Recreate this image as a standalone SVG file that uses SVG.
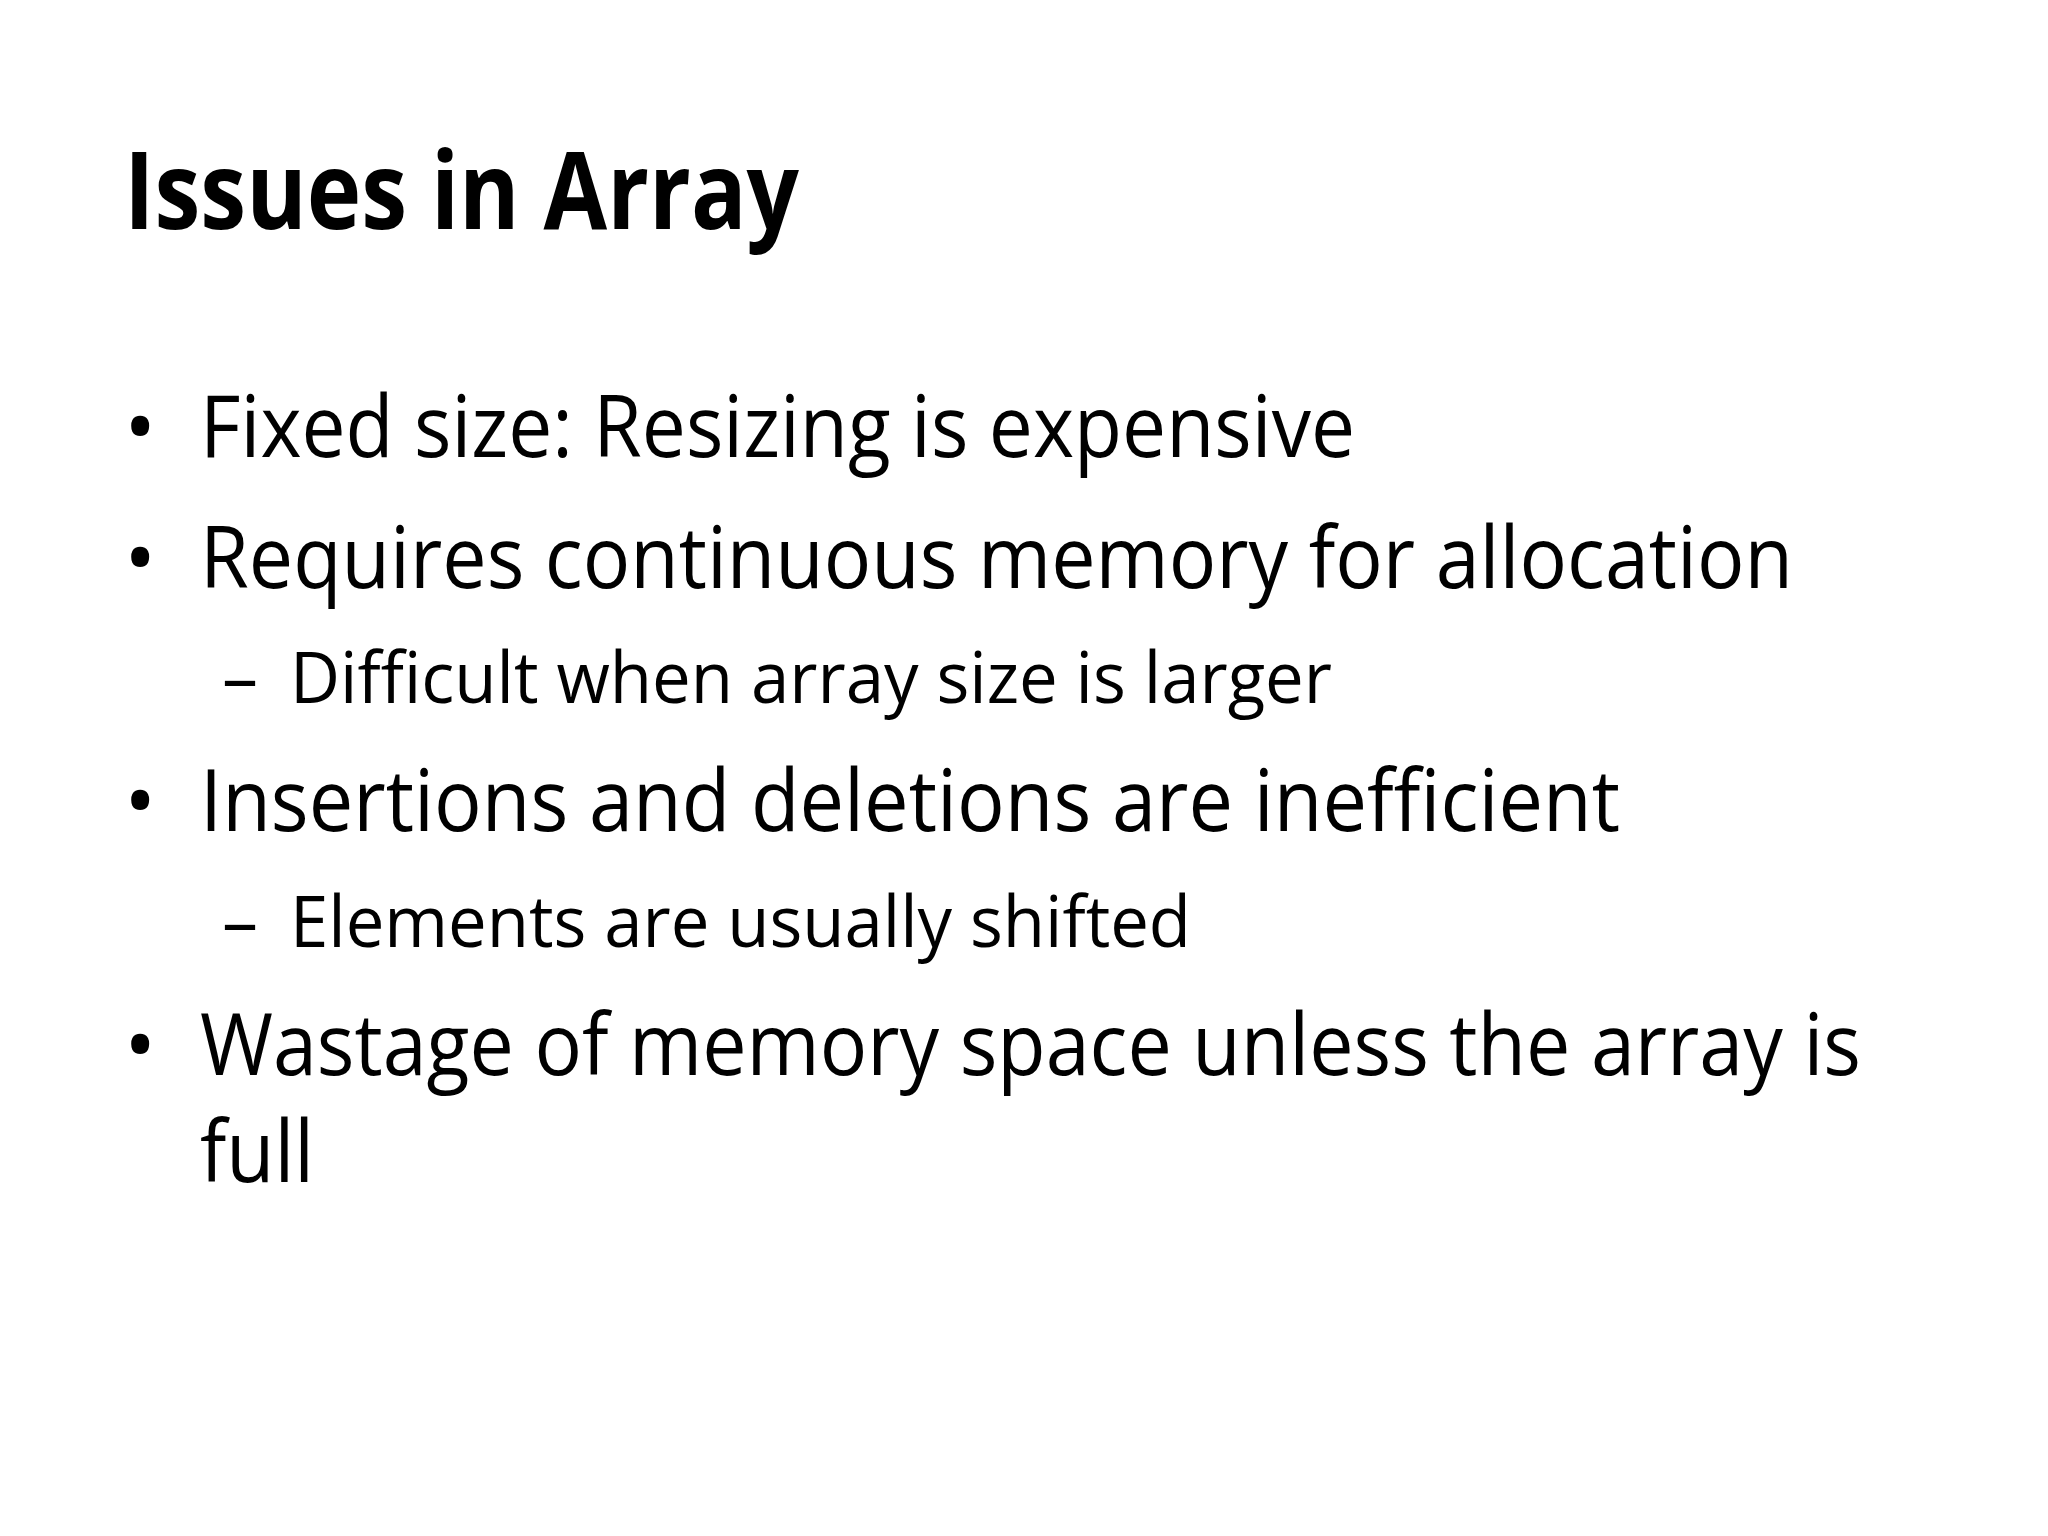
<svg xmlns="http://www.w3.org/2000/svg" width="2048" height="1536" viewBox="0 0 2048 1536">
<style>
text{font-family:"Open Sans","Liberation Sans",sans-serif;fill:#000}
.t{font-size:108px;font-weight:bold}
.m{font-size:86px}
.s{font-size:72px}
</style>
<rect width="2048" height="1536" fill="#fff"/>
<g id="title"><text class="t" x="124" y="229" textLength="675" lengthAdjust="spacingAndGlyphs">Issues in Array</text></g>
<g id="bullets">
<text class="m" x="124" y="457">•</text>
<text class="m" x="200" y="457" textLength="1155" lengthAdjust="spacingAndGlyphs">Fixed size: Resizing is expensive</text>
<text class="m" x="124" y="588">•</text>
<text class="m" x="200" y="588" textLength="1593" lengthAdjust="spacingAndGlyphs">Requires continuous memory for allocation</text>
<text class="s" x="222" y="703">–</text>
<text class="s" x="290" y="703" textLength="1042" lengthAdjust="spacingAndGlyphs">Difficult when array size is larger</text>
<text class="m" x="124" y="831">•</text>
<text class="m" x="200" y="831" textLength="1420" lengthAdjust="spacingAndGlyphs">Insertions and deletions are inefficient</text>
<text class="s" x="222" y="947">–</text>
<text class="s" x="290" y="947" textLength="901" lengthAdjust="spacingAndGlyphs">Elements are usually shifted</text>
<text class="m" x="124" y="1075">•</text>
<text class="m" x="200" y="1075" textLength="1661" lengthAdjust="spacingAndGlyphs">Wastage of memory space unless the array is</text>
<text class="m" x="200" y="1182" textLength="114" lengthAdjust="spacingAndGlyphs">full</text>
</g>
</svg>
